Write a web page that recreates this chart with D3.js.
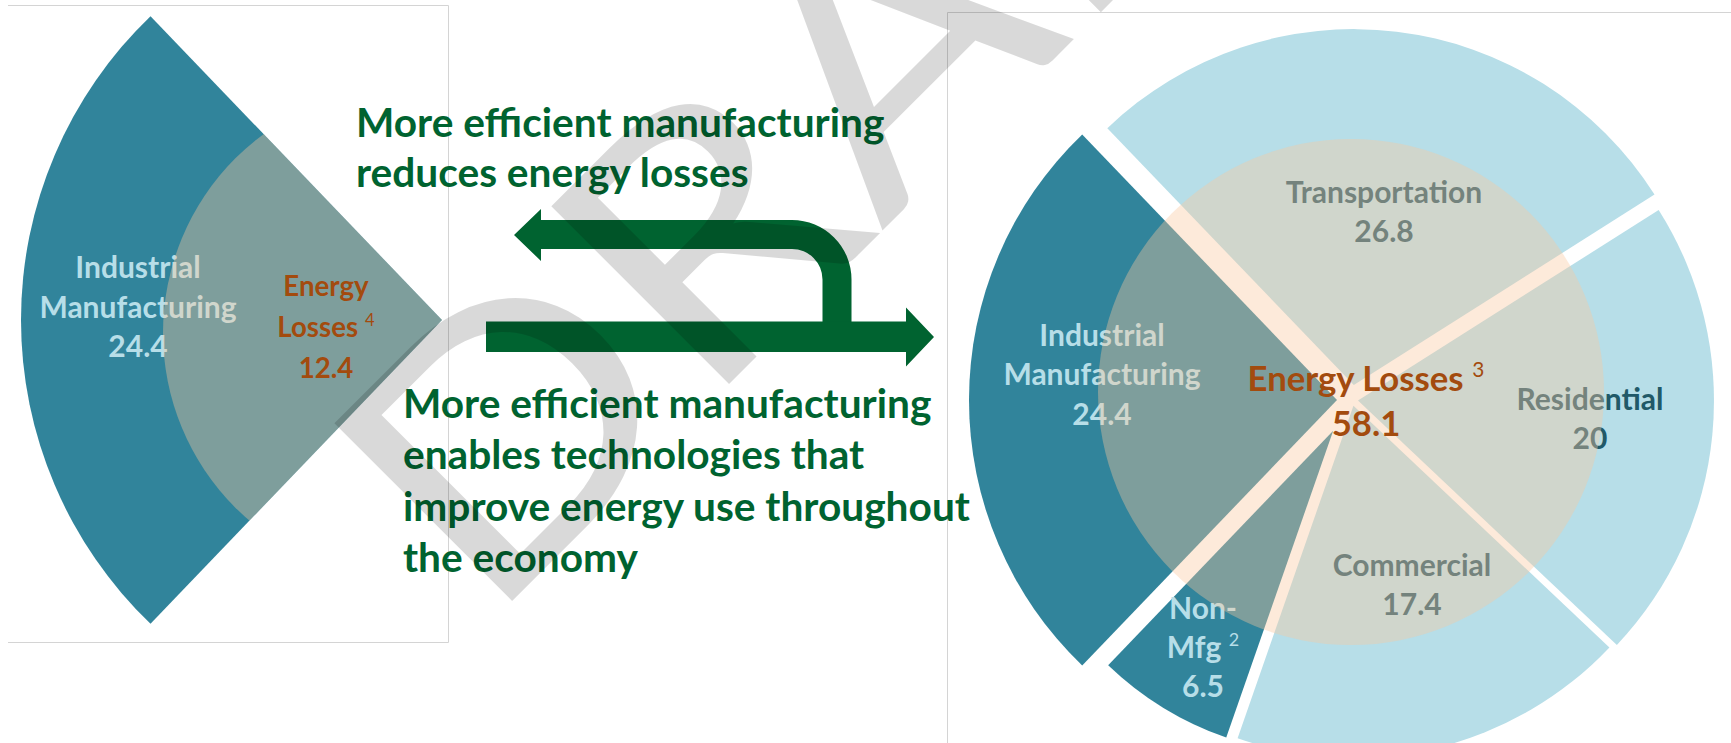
<!DOCTYPE html>
<html>
<head>
  <meta charset="utf-8">
  <script src="https://cdn.jsdelivr.net/npm/d3@7"></script>
  <style>
    body { margin: 0; background: #fff; }
    svg { display: block; }
  </style>
</head>
<body>
  <script>
    // sectors of the economy, clockwise from the top of the right-hand pie
    var sectorNames = ["Transportation", "Residential", "Commercial", "Non-Mfg", "Industrial Manufacturing"];
    var sectorValues = [26.8, 20, 17.4, 6.5, 24.4];
    var sectorLines = [["Transportation"], ["Residential"], ["Commercial"], ["Non-", "Mfg"], ["Industrial", "Manufacturing"]];
    var sectorNotes = ["", "", "", "2", ""];
    var sectorIsMfg = [false, false, false, true, true];
    // energy losses: manufacturing only (left) and whole economy (right)
    var lossValues = [12.4, 58.1];
    var lossNotes = ["4", "3"];
    var topMessage = ["More efficient manufacturing", "reduces energy losses"];
    var bottomMessage = ["More efficient manufacturing", "enables technologies that",
      "improve energy use throughout", "the economy"];

    var width = 1731, height = 743;
    var FONT = "Lato, 'Open Sans', sans-serif";
    var teal = "#31849b", lightBlue = "#b7dee8", darkTeal = "#215968",
      lossColor = "#a34b0e", green = "#006330", overlay = "#f9c89e";

    var svg = d3.select("body").append("svg")
      .attr("width", width)
      .attr("height", height)
      .attr("font-family", FONT);

    // scale Lato so its widths match the Calibri text of the original
    var probe = svg.append("text").attr("font-size", 100).attr("font-weight", 700).text("Manufacturing");
    var kBold = 616.6 / probe.node().getComputedTextLength();
    probe.attr("font-weight", 400).text("DRAFT");
    var kReg = 268.3 / probe.node().getComputedTextLength();
    probe.remove();

    function addLines(g, x, y, lines, size, lineH, color, note) {
      var t = g.append("text")
        .attr("text-anchor", "middle")
        .attr("font-weight", 700)
        .attr("font-size", size * kBold)
        .attr("fill", color);
      lines.forEach(function (l, i) {
        t.append("tspan").attr("x", x).attr("y", y + i * lineH).text(l);
        if (note && note.line === i) {
          t.append("tspan").attr("dx", size * kBold * 0.25).attr("dy", -size * 0.38)
            .attr("font-size", size * kBold * 0.6).attr("font-weight", 400).text(note.text);
        }
      });
      return t;
    }

    var pie = d3.pie().sort(null).value(function (d) { return d; });
    var total = d3.sum(sectorValues);
    var mfgAngle = 2 * Math.PI * sectorValues[4] / total;
    // industrial manufacturing slice centred on the left
    pie.startAngle(-Math.PI / 2 + mfgAngle / 2).endAngle(-Math.PI / 2 + mfgAngle / 2 + 2 * Math.PI);
    var slices = pie(sectorValues);

    // ---- frames
    var frame = svg.append("g").attr("stroke", "#d4d4d4").attr("fill", "none");
    frame.append("path").attr("d", "M8,5.5H448.5V642.5H8");
    frame.append("path").attr("d", "M947.5,743V12.5H1731");

    // ---- left chart: manufacturing only
    var left = { x: 442, y: 320, r: 421, cx: 410, cy: 333, cr: 247 };
    var mfg = slices[4];
    var leftArc = d3.arc().innerRadius(0).outerRadius(left.r);
    var lg = svg.append("g");
    lg.append("clipPath").attr("id", "leftClip")
      .append("path")
      .attr("transform", "translate(" + left.x + "," + left.y + ")")
      .attr("d", leftArc(mfg));
    lg.append("path")
      .attr("transform", "translate(" + left.x + "," + left.y + ")")
      .attr("d", leftArc(mfg))
      .attr("fill", teal);
    addLines(lg, 138, 278, sectorLines[4].concat([d3.format(".1f")(sectorValues[4])]), 32, 39.5, lightBlue);
    lg.append("circle")
      .attr("cx", left.cx).attr("cy", left.cy).attr("r", left.cr)
      .attr("fill", overlay).attr("fill-opacity", 0.385)
      .attr("clip-path", "url(#leftClip)");
    addLines(lg, 326, 296, ["Energy", "Losses", d3.format(".1f")(lossValues[0])], 29.5, 41, lossColor,
      { line: 1, text: lossNotes[0] });

    // ---- right chart: whole economy
    var right = { x: 1352, y: 400, cx: 1351, cy: 392, cr: 253 };
    var explode = [15, 6, 6, 36, 15];
    var outerR = [356, 356, 352, 325, 368];
    var labelAt = [[1384, 203], [1590, 410], [1412, 576], [1203, 618.5], [1102, 346]];
    var rg = svg.append("g");
    var arc = d3.arc().innerRadius(0);
    slices.forEach(function (s, i) {
      var mid = (s.startAngle + s.endAngle) / 2;
      var dx = right.x + explode[i] * Math.sin(mid), dy = right.y - explode[i] * Math.cos(mid);
      rg.append("path")
        .attr("transform", "translate(" + dx + "," + dy + ")")
        .attr("d", arc.outerRadius(outerR[i])(s))
        .attr("fill", sectorIsMfg[i] ? teal : lightBlue);
    });
    slices.forEach(function (s, i) {
      var lines = sectorLines[i].concat([String(sectorValues[i])]);
      addLines(rg, labelAt[i][0], labelAt[i][1], lines, 32, 39.3, sectorIsMfg[i] ? lightBlue : darkTeal,
        sectorNotes[i] ? { line: lines.length - 2, text: sectorNotes[i] } : null);
    });
    rg.append("circle")
      .attr("cx", right.cx).attr("cy", right.cy).attr("r", right.cr)
      .attr("fill", overlay).attr("fill-opacity", 0.385);
    addLines(rg, 1366, 391, ["Energy Losses", String(lossValues[1])], 37, 45, lossColor,
      { line: 0, text: lossNotes[1] });

    // ---- messages and the loop arrow
    var mg = svg.append("g");
    var t1 = mg.append("text").attr("font-weight", 700).attr("font-size", 43.3 * kBold).attr("fill", green);
    topMessage.forEach(function (l, i) { t1.append("tspan").attr("x", 356).attr("y", 137 + i * 50).text(l); });
    var t2 = mg.append("text").attr("font-weight", 700).attr("font-size", 43.3 * kBold).attr("fill", green);
    bottomMessage.forEach(function (l, i) { t2.append("tspan").attr("x", 403).attr("y", 418 + i * 51.3).text(l); });

    var up = d3.path();
    up.moveTo(514, 235);
    up.lineTo(541, 209);
    up.lineTo(541, 220);
    up.lineTo(792, 220);
    up.arc(792, 279.5, 59.5, -Math.PI / 2, 0);
    up.lineTo(851.5, 322);
    up.lineTo(822.5, 322);
    up.lineTo(822.5, 279.5);
    up.arc(792, 279.5, 30.5, 0, -Math.PI / 2, true);
    up.lineTo(541, 249);
    up.lineTo(541, 261);
    up.closePath();
    var down = d3.path();
    down.moveTo(486, 321.5);
    down.lineTo(906, 321.5);
    down.lineTo(906, 307.5);
    down.lineTo(934, 337);
    down.lineTo(906, 366.5);
    down.lineTo(906, 352);
    down.lineTo(486, 352);
    down.closePath();
    mg.append("path").attr("d", up.toString()).attr("fill", green);
    mg.append("path").attr("d", down.toString()).attr("fill", green);

    // ---- watermark (stretched like a WordArt text box)
    svg.append("text")
      .attr("transform", "translate(486,627) rotate(-45) scale(1.15,1)")
      .attr("font-size", 421 * kReg)
      .attr("font-weight", 400)
      .attr("fill", "#000")
      .attr("fill-opacity", 0.15)
      .text("DRAFT");
  </script>
</body>
</html>
